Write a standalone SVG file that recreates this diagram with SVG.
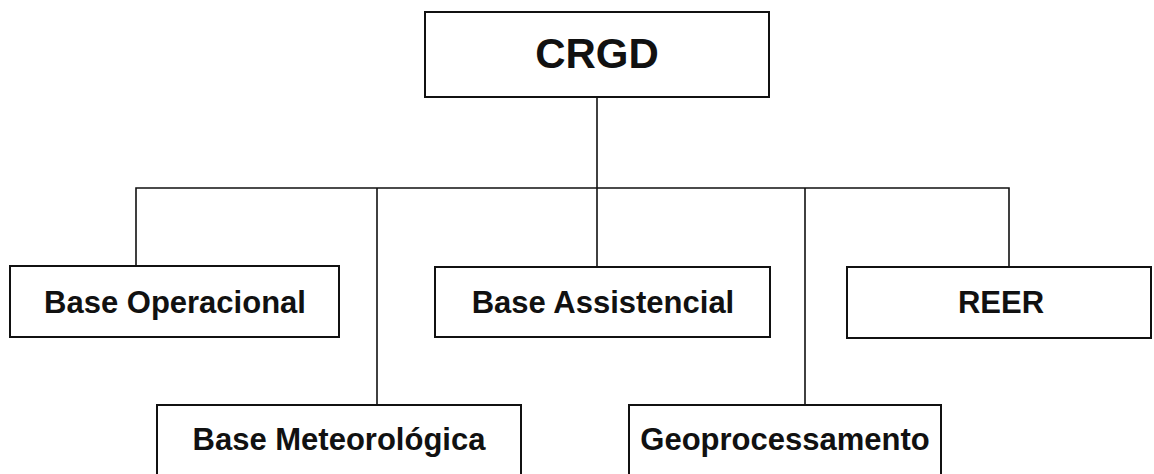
<svg xmlns="http://www.w3.org/2000/svg" width="1154" height="474" viewBox="0 0 1154 474">
<style>
.box{fill:#fff;stroke:#111;stroke-width:2}
.ln{fill:none;stroke:#111;stroke-width:1.6}
.t{font-family:"Liberation Sans",Arial,sans-serif;font-weight:bold;font-size:31px;fill:#111;text-anchor:middle}
.big{font-size:42px}
</style>
<rect width="1154" height="474" fill="#fff"/>
<g id="connectors">
<line class="ln" x1="597" y1="97" x2="597" y2="267"/>
<polyline class="ln" points="136,266 136,188 1009,188 1009,266"/>
<line class="ln" x1="377" y1="188" x2="377" y2="405"/>
<line class="ln" x1="805" y1="188" x2="805" y2="405"/>
</g>
<g id="crgd"><rect class="box" x="425" y="12" width="344" height="85"/><text class="t big" x="597" y="68">CRGD</text></g>
<g id="base-operacional"><rect class="box" x="10" y="266" width="329" height="71"/><text class="t" x="175" y="313">Base Operacional</text></g>
<g id="base-assistencial"><rect class="box" x="435" y="267" width="335" height="70"/><text class="t" x="603" y="313">Base Assistencial</text></g>
<g id="reer"><rect class="box" x="847" y="267" width="304" height="71"/><text class="t" x="1001" y="313">REER</text></g>
<g id="base-meteorologica"><rect class="box" x="157" y="405" width="364" height="80"/><text class="t" x="339" y="450">Base Meteorológica</text></g>
<g id="geoprocessamento"><rect class="box" x="629" y="405" width="312" height="80"/><text class="t" x="785" y="450">Geoprocessamento</text></g>
</svg>
